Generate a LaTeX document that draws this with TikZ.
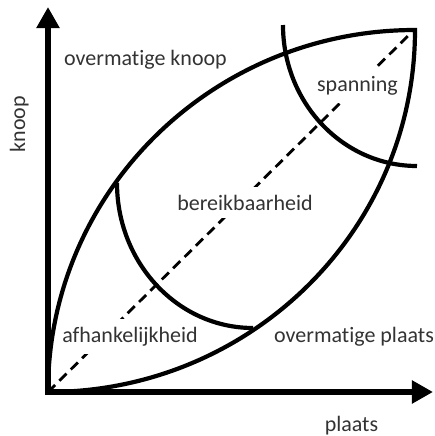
\documentclass[tikz,border=0pt]{standalone}
\usepackage{fontspec}
\setmainfont{Carlito}[Ligatures=NoCommon]
\usepackage{tikz}
\usetikzlibrary{arrows.meta}

\begin{document}
\begin{tikzpicture}[
  x=0.5pt, y=0.5pt,
  axis/.style={line width=3pt, -{Triangle[length=10.5pt, width=11pt]}},
  curve/.style={line width=2.1pt, line join=miter},
  diag/.style={line width=1.4pt, dash pattern=on 5pt off 3pt},
  lbl/.style={font=\fontsize{11}{13}\selectfont, text=black!80, inner sep=0pt, anchor=base},
  onln/.style={lbl, fill=white, inner sep=4pt}
]
\useasboundingbox (0,0) rectangle (435,436);

\coordinate (O) at (48,44);
\coordinate (T) at (412,404);

% diagonal first, labels cover it
\draw[diag] (O) -- (T);

\node[lbl, rotate=90] (knoop) at (25,312) {knoop};
\node[lbl] (plaats) at (351.5,4) {plaats};
\node[lbl] (ovk) at (145.5,371) {overmatige knoop};
\node[lbl] (ovp) at (354,94) {overmatige plaats};
\node[onln] (span) at (357.5,345) {spanning};
\node[onln] (bereik) at (245,226) {bereikbaarheid};
\node[onln] (afh) at (130,94) {afhankelijkheid};

% lens and the two arcs
\draw[curve] (O) arc[start angle=180, end angle=90, x radius=367, y radius=362]
  arc[start angle=0, end angle=-90, x radius=367, y radius=362] -- cycle;
\draw[curve] (117,253) arc[start angle=180, end angle=270, x radius=136, y radius=145];
\draw[curve] (283,411) arc[start angle=180, end angle=270, x radius=134, y radius=141];

% axes
\draw[axis] (45,44) -- (433,44);
\draw[axis] (48,41) -- (48,429);
\end{tikzpicture}
\end{document}
